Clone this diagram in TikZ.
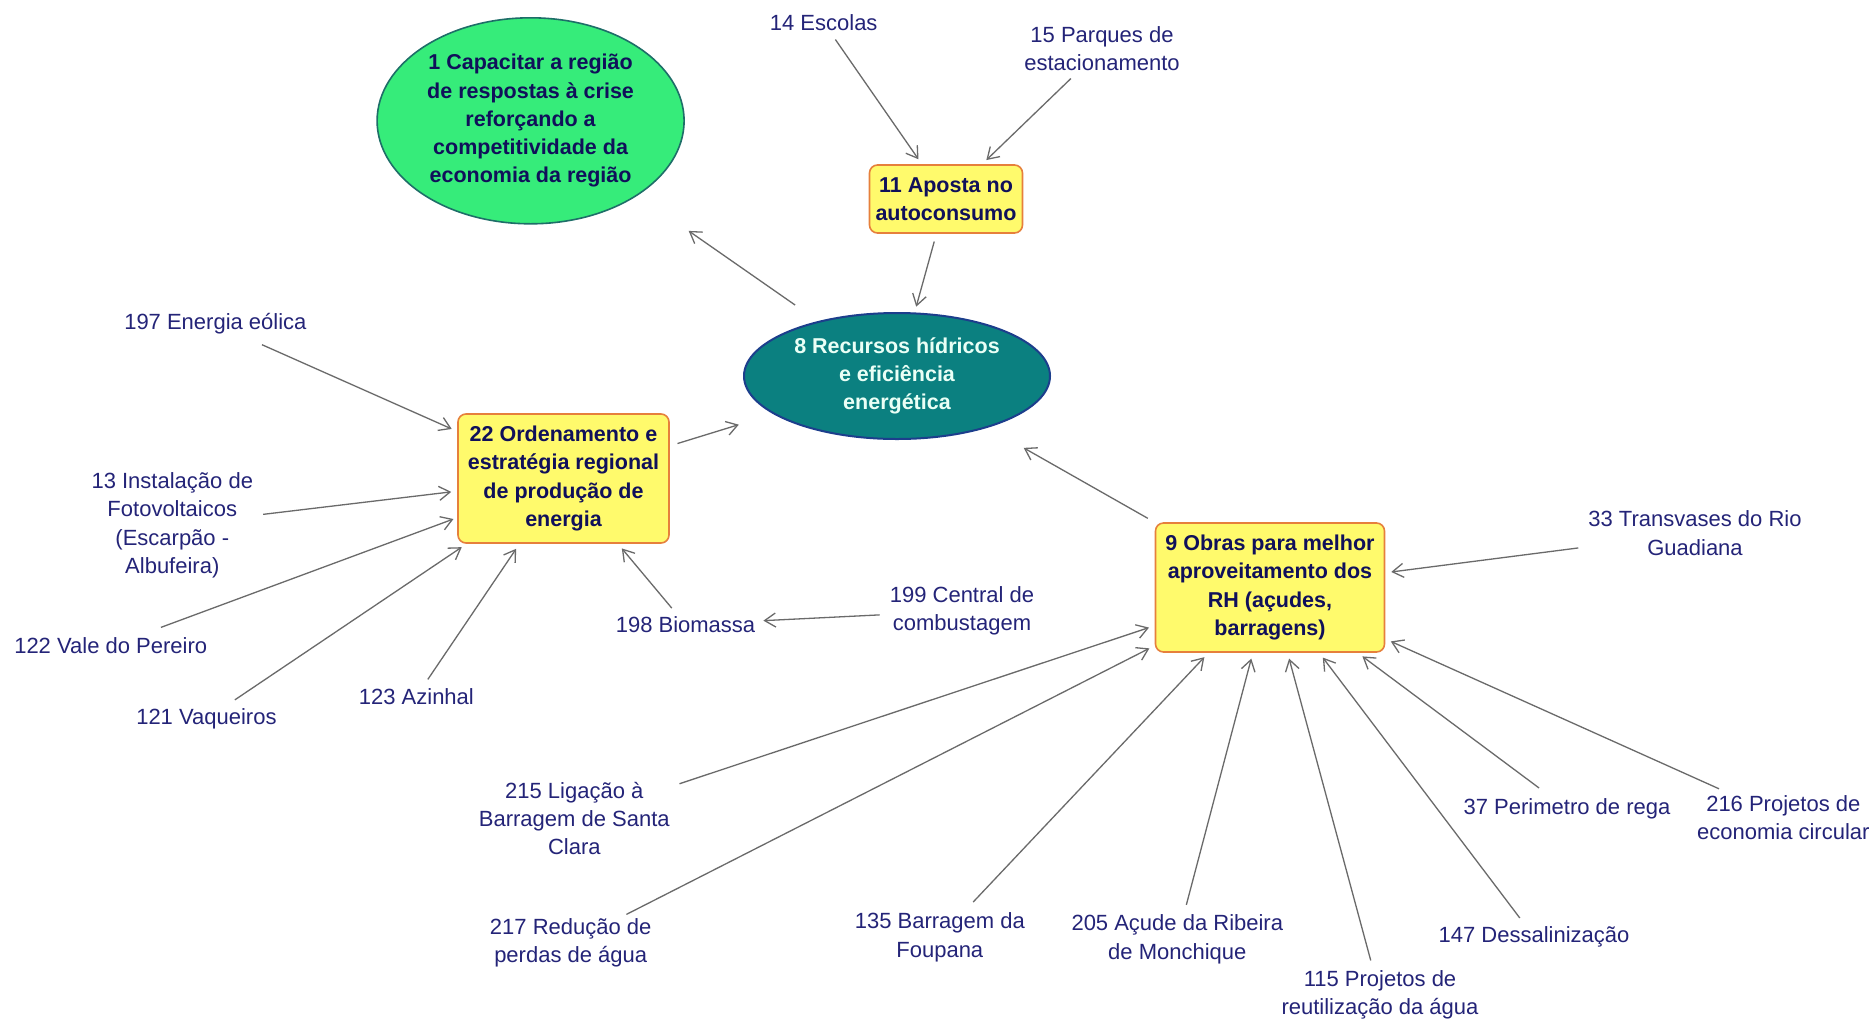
\documentclass[tikz,border=0pt]{standalone}
\usepackage{fontspec}
\setmainfont{Liberation Sans}
\usetikzlibrary{shapes.geometric,arrows.meta}
\definecolor{labc}{HTML}{242478}
\definecolor{boldc}{HTML}{10105A}
\definecolor{greenf}{HTML}{36EC7A}
\definecolor{greend}{HTML}{1E6E68}
\definecolor{tealf}{HTML}{0B8080}
\definecolor{teald}{HTML}{1C3E8C}
\definecolor{yelf}{HTML}{FFFA6C}
\definecolor{yeld}{HTML}{E6803C}
\definecolor{linec}{HTML}{6A6A6A}
\definecolor{whitet}{HTML}{EAFFF6}
\tikzset{
  lab/.style={align=center, text=labc, inner sep=2pt,
    font=\fontsize{22}{28.3}\selectfont},
  ybox/.style={draw=yeld, fill=yelf, line width=1.6pt, rounded corners=8pt,
    align=center, text=boldc, inner sep=0pt,
    font=\fontsize{21.5}{28.3}\selectfont\bfseries},
  ellg/.style={ellipse, draw=greend, fill=greenf, line width=1.6pt,
    align=center, text=boldc, inner sep=0pt,
    font=\fontsize{21.5}{28.3}\selectfont\bfseries},
  ellt/.style={ellipse, draw=teald, fill=tealf, line width=2pt,
    align=center, text=whitet, inner sep=0pt,
    font=\fontsize{21.5}{28.3}\selectfont\bfseries},
  conn/.style={draw=linec, line width=1.3pt,
    -{Straight Barb[length=11pt,width=14pt]},
    shorten >=6pt, shorten <=8pt}
}
\begin{document}
\begin{tikzpicture}[x=1pt,y=-1pt]
\useasboundingbox (0,0) rectangle (1876,1021);
\fill[white] (0,0) rectangle (1876,1021);

% main nodes
\node[ellg, minimum width=307pt, minimum height=206pt] (n1) at (530.6,120.8)
  {1 Capacitar a região\\de respostas à crise\\reforçando a\\competitividade da\\economia da região};
\node[ellt, minimum width=306pt, minimum height=126pt] (n8) at (897,376)
  {8 Recursos hídricos\\e eficiência\\energética};
\node[ybox, minimum width=153pt, minimum height=68pt] (n11) at (946,199)
  {11 Aposta no\\autoconsumo};
\node[ybox, minimum width=211pt, minimum height=129pt] (n22) at (563.5,478.5)
  {22 Ordenamento e\\estratégia regional\\de produção de\\energia};
\node[ybox, minimum width=229pt, minimum height=129pt] (n9) at (1270,587.5)
  {9 Obras para melhor\\aproveitamento dos\\RH (açudes,\\barragens)};

% labels
\node[lab] (l14) at (823.7,22.7) {14 Escolas};
\node[lab] (l15) at (1102,48.5) {15 Parques de\\estacionamento};
\node[lab] (l197) at (215.4,324) {197 Energia eólica};
\node[lab] (l13) at (172.3,525.2) {13 Instalação de\\Fotovoltaicos\\(Escarpão -\\Albufeira)};
\node[lab] (l122) at (110.7,646) {122 Vale do Pereiro};
\node[lab] (l121) at (206.4,719) {121 Vaqueiros};
\node[lab] (l123) at (416.4,696.3) {123 Azinhal};
\node[lab] (l198) at (685.5,624.5) {198 Biomassa};
\node[lab] (l199) at (962,610.8) {199 Central de\\combustagem};
\node[lab] (l33) at (1695,533) {33 Transvases do Rio\\Guadiana};
\node[lab] (l215) at (574.3,818.4) {215 Ligação à\\Barragem de Santa\\Clara};
\node[lab] (l217) at (570.7,942.8) {217 Redução de\\perdas de água};
\node[lab] (l135) at (939.8,937.4) {135 Barragem da\\Foupana};
\node[lab] (l205) at (1177.3,939.2) {205 Açude da Ribeira\\de Monchique};
\node[lab] (l115) at (1380,994.8) {115 Projetos de\\reutilização da água};
\node[lab] (l147) at (1534,936.8) {147 Dessalinização};
\node[lab] (l37) at (1567,808.8) {37 Perimetro de rega};
\node[lab] (l216) at (1783.3,817.7) {216 Projetos de\\economia circular};

% connectors
\draw[conn] (l14) -- (n11);
\draw[conn] (l15) -- (n11);
\draw[conn] (n11) -- (n8);
\draw[conn, shorten <=28pt, shorten >=62pt] (n8) -- (n1);
\draw[conn, shorten >=36pt] (n22) -- (n8);
\draw[conn, shorten >=41pt] (n9) -- (n8);
\draw[conn, shorten <=20pt] (l197) -- (n22);
\draw[conn] (l13) -- (n22);
\draw[conn, shorten <=24pt, shorten >=4pt] (l122) -- (n22);
\draw[conn, shorten <=12pt] (l121) -- (n22);
\draw[conn] (l123) -- (n22);
\draw[conn] (l198) -- (n22);
\draw[conn] (l199) -- (l198);
\draw[conn] (l33) -- (n9);
\draw[conn] (l215) -- (n9);
\draw[conn, shorten <=4pt] (l217) -- (n9);
\draw[conn, shorten <=12pt] (l135) -- (n9);
\draw[conn] (l205) -- (n9);
\draw[conn] (l115) -- (n9);
\draw[conn] (l147) -- (n9);
\draw[conn, shorten <=14pt] (l37) -- (n9);
\draw[conn, shorten <=11pt] (l216) -- (n9);
\end{tikzpicture}
\end{document}
